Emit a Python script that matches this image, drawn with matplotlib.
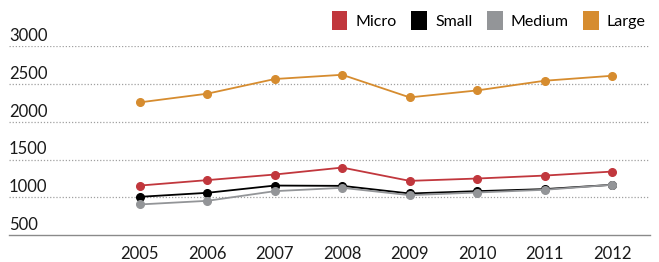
import matplotlib.pyplot as plt
from matplotlib.patches import Patch
import matplotlib.transforms as mtransforms

years = [2005, 2006, 2007, 2008, 2009, 2010, 2011, 2012]
micro = [1158, 1230, 1304, 1396, 1220, 1251, 1290, 1343]
small = [1009, 1062, 1158, 1154, 1053, 1084, 1111, 1168]
medium = [908, 956, 1084, 1128, 1031, 1066, 1102, 1168]
large = [2259, 2374, 2568, 2624, 2325, 2417, 2545, 2611]
yticks = [500, 1000, 1500, 2000, 2500, 3000]

names = ['Micro', 'Small', 'Medium', 'Large']
colors = ['#c1373d', '#000000', '#939598', '#d68c2f']

plt.rcParams['font.family'] = ['Lato', 'DejaVu Sans']

fig = plt.figure(figsize=(6.59, 2.62), dpi=100)
ax = fig.add_axes([0.0137, 0.102, 0.9723, 0.721])

# medium drawn under small, so small line shows on top
order = [2, 1, 0, 3]
series = [micro, small, medium, large]
for i in order:
    ax.plot(years, series[i], color=colors[i], lw=1.3, marker='o', ms=5.5,
            zorder=3 + i)

ax.set_xlim(2003.06, 2012.56)
ax.set_ylim(500, 3000)

# dotted grid, labels sit above each line
trans = mtransforms.blended_transform_factory(ax.transAxes, ax.transData)
for v in yticks:
    if v > 500:
        ax.axhline(v, color='#a0a0a0', lw=0.9, ls=(0, (1, 1.5)), zorder=1)
    ax.text(0.0, v + 30, str(v), transform=trans, ha='left', va='bottom',
            fontsize=12, color='#1a1a1a')

for s in ['left', 'right', 'top']:
    ax.spines[s].set_visible(False)
ax.spines['bottom'].set_color('#8a8a8a')
ax.spines['bottom'].set_linewidth(1.0)

ax.set_yticks([])
ax.set_xticks(years)
ax.set_xticklabels([str(y) for y in years], fontsize=12, color='#1a1a1a')
ax.tick_params(axis='x', length=0, pad=8)

handles = [Patch(facecolor=c, edgecolor='none') for c in colors]
fig.legend(handles, names, loc='upper right', bbox_to_anchor=(0.997, 1.0),
           ncol=4, frameon=False, fontsize=11.5, handlelength=1.0,
           handleheight=1.4, handletextpad=0.5, columnspacing=0.9,
           borderaxespad=0.3)

fig.savefig('out.png', dpi=100)
